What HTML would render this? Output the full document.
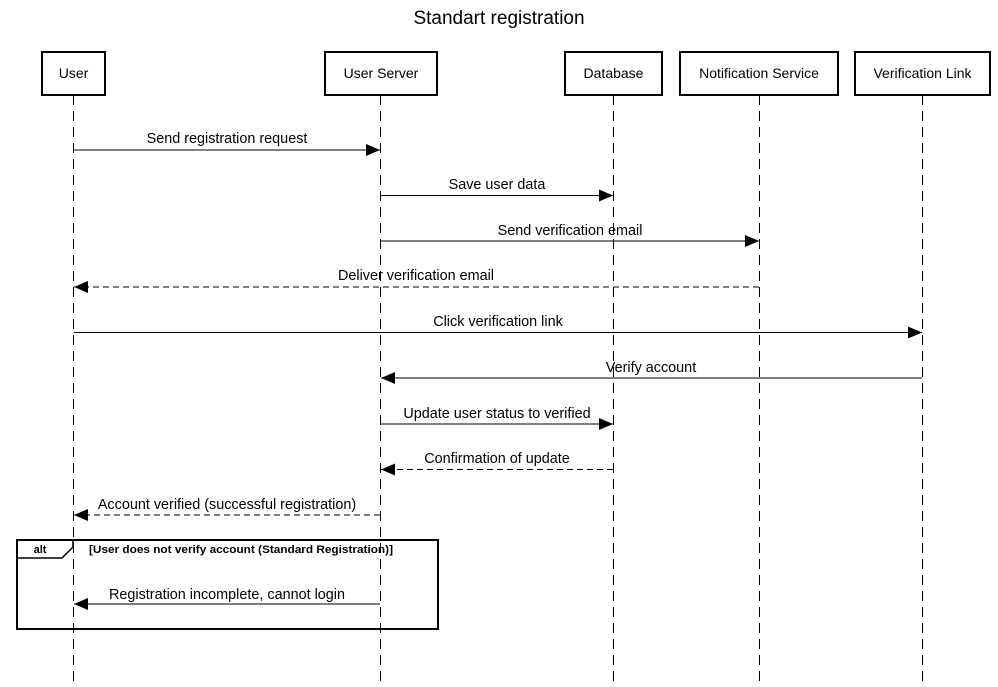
<!DOCTYPE html>
<html><head><style>body{margin:0;background:#fff}svg{display:block}text{font-family:"Liberation Sans",Arial,sans-serif}</style></head><body>
<svg width="998" height="687" xmlns="http://www.w3.org/2000/svg">
<defs>
<marker id="a" markerWidth="14" markerHeight="12" refX="14" refY="6" orient="auto" markerUnits="userSpaceOnUse"><path d="M0,0L14,6L0,12z" fill="#000"/></marker>
</defs>
<text x="499" y="24" font-size="19" text-anchor="middle">Standart registration</text>
<g stroke="#000" stroke-width="1" stroke-dasharray="10,6">
<line x1="73.5" y1="95" x2="73.5" y2="687"/>
<line x1="380.5" y1="95" x2="380.5" y2="687"/>
<line x1="613.5" y1="95" x2="613.5" y2="687"/>
<line x1="759.5" y1="95" x2="759.5" y2="687"/>
<line x1="922.5" y1="95" x2="922.5" y2="687"/>
</g>
<g fill="#fff" stroke="#000" stroke-width="2">
<rect x="42" y="52" width="63" height="43"/>
<rect x="325" y="52" width="112" height="43"/>
<rect x="565" y="52" width="97" height="43"/>
<rect x="680" y="52" width="158" height="43"/>
<rect x="855" y="52" width="135" height="43"/>
</g>
<g font-size="14" text-anchor="middle">
<text x="73.5" y="78">User</text>
<text x="381" y="78">User Server</text>
<text x="613.5" y="78">Database</text>
<text x="759" y="78">Notification Service</text>
<text x="922.5" y="78">Verification Link</text>
</g>
<g stroke="#000" stroke-width="1" marker-end="url(#a)">
<line x1="74" y1="150" x2="380" y2="150"/>
<line x1="381" y1="195.5" x2="613" y2="195.5"/>
<line x1="381" y1="241" x2="759" y2="241"/>
<line x1="759" y1="287" x2="74" y2="287" stroke-dasharray="6,4"/>
<line x1="74" y1="332.5" x2="922" y2="332.5"/>
<line x1="922" y1="378" x2="381" y2="378"/>
<line x1="381" y1="424" x2="613" y2="424"/>
<line x1="613" y1="469.5" x2="381" y2="469.5" stroke-dasharray="6,4"/>
<line x1="380" y1="515" x2="74" y2="515" stroke-dasharray="6,4"/>
<line x1="380" y1="604" x2="74" y2="604"/>
</g>
<g font-size="14.4" text-anchor="middle">
<text x="227" y="143">Send registration request</text>
<text x="497" y="189">Save user data</text>
<text x="570" y="235">Send verification email</text>
<text x="416" y="280">Deliver verification email</text>
<text x="498" y="326">Click verification link</text>
<text x="651" y="372">Verify account</text>
<text x="497" y="418">Update user status to verified</text>
<text x="497" y="463">Confirmation of update</text>
<text x="227" y="509">Account verified (successful registration)</text>
<text x="227" y="599">Registration incomplete, cannot login</text>
</g>
<rect x="17" y="540" width="421" height="89" fill="none" stroke="#000" stroke-width="2"/>
<path d="M17,558H62L73,547V540" fill="none" stroke="#000" stroke-width="1.5"/>
<text x="40" y="553" font-size="11" font-weight="bold" text-anchor="middle">alt</text>
<text x="89" y="553" font-size="11" font-weight="bold" textLength="304" lengthAdjust="spacingAndGlyphs">[User does not verify account (Standard Registration)]</text>
</svg>
</body></html>
